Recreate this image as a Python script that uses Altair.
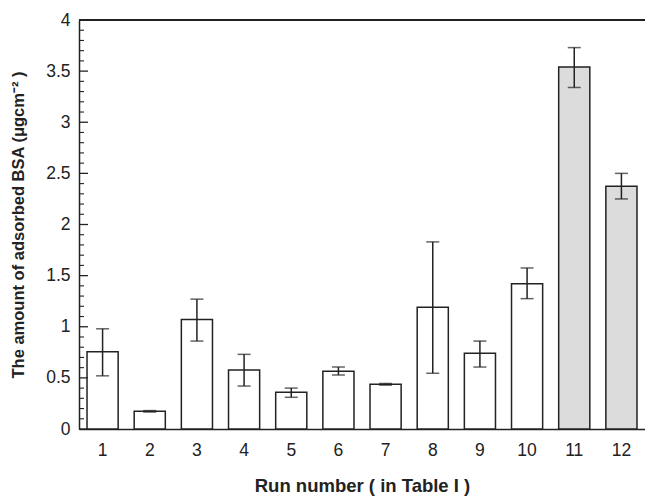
import altair as alt
import pandas as pd

runs = ["1", "2", "3", "4", "5", "6", "7", "8", "9", "10", "11", "12"]
means = [0.756, 0.173, 1.07, 0.577, 0.359, 0.564, 0.437, 1.19, 0.74, 1.42, 3.54, 2.374]
err_hi = [0.98, 0.18, 1.27, 0.73, 0.40, 0.606, 0.445, 1.83, 0.86, 1.575, 3.73, 2.50]
err_lo = [0.52, 0.166, 0.86, 0.42, 0.31, 0.528, 0.429, 0.545, 0.606, 1.275, 3.34, 2.25]
groups = ["open"] * 10 + ["shaded"] * 2

major_ticks = [0, 0.5, 1, 1.5, 2, 2.5, 3, 3.5, 4]
minor_ticks = [0.1, 0.2, 0.3, 0.4, 0.6, 0.7, 0.8, 0.9, 1.1, 1.2, 1.3, 1.4,
               1.6, 1.7, 1.8, 1.9, 2.1, 2.2, 2.3, 2.4, 2.6, 2.7, 2.8, 2.9,
               3.1, 3.2, 3.3, 3.4, 3.6, 3.7, 3.8, 3.9]

df = pd.DataFrame({"run": runs, "mean": means, "hi": err_hi, "lo": err_lo, "group": groups})
major_df = pd.DataFrame({"v": major_ticks})
minor_df = pd.DataFrame({"v": minor_ticks})

FONT = "Liberation Sans"
INK = "#222222"

yscale = alt.Scale(domain=[0, 4], nice=False)
xscale = alt.Scale(paddingInner=0.34, paddingOuter=0.17)

x_enc = alt.X("run:N", sort=runs, scale=xscale,
              axis=alt.Axis(title="Run number ( in Table I )", labelAngle=0, ticks=False,
                            labelPadding=12, labelFontSize=17.5, labelColor=INK, labelFont=FONT,
                            titleFont=FONT, titleFontSize=18.5, titleFontWeight="bold",
                            titleColor=INK, titlePadding=18, domainColor=INK, domainWidth=1.5))

bars = alt.Chart(df).mark_bar(stroke=INK, strokeWidth=1.5).encode(
    x=x_enc,
    y=alt.Y("mean:Q", scale=yscale,
            axis=alt.Axis(title="The amount of adsorbed BSA (μgcm⁻² )", values=major_ticks,
                          format="~g", ticks=False, labelPadding=9, labelFontSize=17.5,
                          labelColor=INK, labelFont=FONT, titleFont=FONT, titleFontSize=16.5,
                          titleFontWeight="bold", titleColor=INK, titlePadding=19,
                          domainColor=INK, domainWidth=1.5, grid=False)),
    fill=alt.Fill("group:N", scale=alt.Scale(domain=["open", "shaded"],
                                            range=["#ffffff", "#dcdcdc"]), legend=None),
)

err = alt.Chart(df).mark_rule(color=INK, strokeWidth=1.5).encode(
    x=alt.X("run:N", sort=runs, scale=xscale),
    y=alt.Y("lo:Q", scale=yscale),
    y2="hi:Q",
)
cap_hi = alt.Chart(df).mark_tick(color=INK, thickness=1.5, size=13, orient="horizontal").encode(
    x=alt.X("run:N", sort=runs, scale=xscale),
    y=alt.Y("hi:Q", scale=yscale),
)
cap_lo = alt.Chart(df).mark_tick(color=INK, thickness=1.5, size=13, orient="horizontal").encode(
    x=alt.X("run:N", sort=runs, scale=xscale),
    y=alt.Y("lo:Q", scale=yscale),
)

major = alt.Chart(major_df).mark_rule(color=INK, strokeWidth=1.3).encode(
    y=alt.Y("v:Q", scale=yscale), x=alt.value(0), x2=alt.value(9))
minor = alt.Chart(minor_df).mark_rule(color=INK, strokeWidth=1.1).encode(
    y=alt.Y("v:Q", scale=yscale), x=alt.value(0), x2=alt.value(5))

top = alt.Chart(major_df).mark_rule(color=INK, strokeWidth=1.5).encode(y=alt.datum(4))

chart = alt.layer(bars, err, cap_hi, cap_lo, major, minor, top).properties(
    width=566, height=409,
    autosize=alt.AutoSizeParams(type="none"),
    padding={"left": 79, "top": 20, "right": 0, "bottom": 69},
    background="white",
).configure_view(stroke=None)

chart.save("out.html", embed_options={"renderer": "svg", "actions": False})
